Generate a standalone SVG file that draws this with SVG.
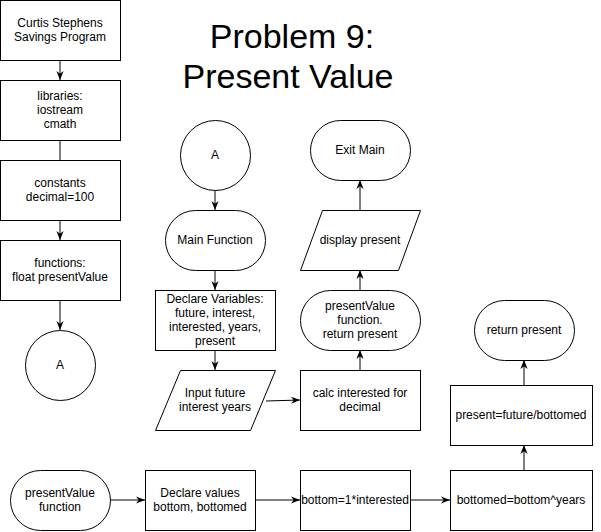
<svg xmlns="http://www.w3.org/2000/svg" width="601" height="532" viewBox="0 0 601 532">
<style>
.s{fill:#fff;stroke:#000;stroke-width:1}
.t{font-family:"Liberation Sans",Arial,Helvetica,sans-serif;font-size:12px;fill:#000;text-anchor:middle}
.h{font-family:"Liberation Sans",Arial,Helvetica,sans-serif;font-size:34px;fill:#000;text-anchor:middle}
.c{fill:none;stroke:#000;stroke-width:1}
</style>
<defs>
<marker id="a" viewBox="0 0 10 10" refX="10" refY="5" markerWidth="9" markerHeight="9" markerUnits="userSpaceOnUse" orient="auto">
<path d="M0,1 L10,5 L0,9 L3,5 z" fill="#000"/>
</marker>
</defs>
<rect width="601" height="532" fill="#fff"/>
<g id="title">
<text class="h" x="292" y="48">Problem 9:</text>
<text class="h" x="288" y="88">Present Value</text>
</g>
<g id="connectors">
<line class="c" x1="60" y1="60" x2="60" y2="80" marker-end="url(#a)"/>
<line class="c" x1="60" y1="140" x2="60" y2="160"/>
<line class="c" x1="60" y1="220" x2="60" y2="240" marker-end="url(#a)"/>
<line class="c" x1="60" y1="300" x2="60" y2="330" marker-end="url(#a)"/>
<line class="c" x1="215" y1="190" x2="215" y2="210" marker-end="url(#a)"/>
<line class="c" x1="215" y1="270" x2="215" y2="290" marker-end="url(#a)"/>
<line class="c" x1="215" y1="350" x2="215" y2="370" marker-end="url(#a)"/>
<line class="c" x1="266" y1="401" x2="300" y2="400" marker-end="url(#a)"/>
<line class="c" x1="360" y1="370" x2="360" y2="350" marker-end="url(#a)"/>
<line class="c" x1="360" y1="290" x2="360" y2="270" marker-end="url(#a)"/>
<line class="c" x1="360" y1="210" x2="360" y2="180" marker-end="url(#a)"/>
<line class="c" x1="110" y1="500" x2="145" y2="500" marker-end="url(#a)"/>
<line class="c" x1="255" y1="500" x2="300" y2="500" marker-end="url(#a)"/>
<line class="c" x1="410" y1="500" x2="450" y2="500" marker-end="url(#a)"/>
<line class="c" x1="524" y1="470" x2="524" y2="445" marker-end="url(#a)"/>
<line class="c" x1="524" y1="385" x2="524" y2="360" marker-end="url(#a)"/>
</g>
<g id="n1"><rect class="s" x="0.5" y="0.5" width="120" height="60"/>
<text class="t" x="60" y="27">Curtis Stephens</text><text class="t" x="60" y="41">Savings Program</text></g>
<g id="n2"><rect class="s" x="0.5" y="80.5" width="120" height="60"/>
<text class="t" x="60" y="100">libraries:</text><text class="t" x="60" y="114">iostream</text><text class="t" x="60" y="128">cmath</text></g>
<g id="n3"><rect class="s" x="0.5" y="160.5" width="120" height="60"/>
<text class="t" x="60" y="187">constants</text><text class="t" x="60" y="201">decimal=100</text></g>
<g id="n4"><rect class="s" x="0.5" y="240.5" width="120" height="60"/>
<text class="t" x="60" y="267">functions:</text><text class="t" x="60" y="281">float presentValue</text></g>
<g id="n5"><circle class="s" cx="60.5" cy="365.5" r="35"/>
<text class="t" x="60" y="369">A</text></g>
<g id="n6"><circle class="s" cx="215.5" cy="155.5" r="35"/>
<text class="t" x="215" y="159">A</text></g>
<g id="n7"><rect class="s" x="165.5" y="210.5" width="100" height="60" rx="30" ry="30"/>
<text class="t" x="215" y="244">Main Function</text></g>
<g id="n8"><rect class="s" x="155.5" y="290.5" width="120" height="60"/>
<text class="t" x="215" y="303">Declare Variables:</text><text class="t" x="215" y="317">future, interest,</text><text class="t" x="215" y="331">interested, years,</text><text class="t" x="215" y="345">present</text></g>
<g id="n9"><polygon class="s" points="180.5,370.5 275.5,370.5 250.5,430.5 155.5,430.5"/>
<text class="t" x="215" y="397">Input future</text><text class="t" x="215" y="411">interest years</text></g>
<g id="n10"><rect class="s" x="300.5" y="370.5" width="120" height="60"/>
<text class="t" x="360" y="397">calc interested for</text><text class="t" x="360" y="411">decimal</text></g>
<g id="n11"><rect class="s" x="300.5" y="290.5" width="120" height="60" rx="30" ry="30"/>
<text class="t" x="360" y="310">presentValue</text><text class="t" x="360" y="324">function.</text><text class="t" x="360" y="338">return present</text></g>
<g id="n12"><polygon class="s" points="322.5,210.5 420.5,210.5 398.5,270.5 300.5,270.5"/>
<text class="t" x="360" y="244">display present</text></g>
<g id="n13"><rect class="s" x="310.5" y="120.5" width="100" height="60" rx="30" ry="30"/>
<text class="t" x="360" y="154">Exit Main</text></g>
<g id="n14"><rect class="s" x="10.5" y="470.5" width="100" height="60" rx="30" ry="30"/>
<text class="t" x="60" y="497">presentValue</text><text class="t" x="60" y="511">function</text></g>
<g id="n15"><rect class="s" x="145.5" y="470.5" width="110" height="60"/>
<text class="t" x="200" y="497">Declare values</text><text class="t" x="200" y="511">bottom, bottomed</text></g>
<g id="n16"><rect class="s" x="300.5" y="470.5" width="110" height="60"/>
<text class="t" x="355" y="504">bottom=1*interested</text></g>
<g id="n17"><rect class="s" x="450.5" y="470.5" width="142" height="60"/>
<text class="t" x="521" y="504">bottomed=bottom^years</text></g>
<g id="n18"><rect class="s" x="450.5" y="385.5" width="142" height="60"/>
<text class="t" x="521" y="419">present=future/bottomed</text></g>
<g id="n19"><rect class="s" x="474.5" y="300.5" width="100" height="60" rx="30" ry="30"/>
<text class="t" x="524" y="334">return present</text></g>
</svg>
